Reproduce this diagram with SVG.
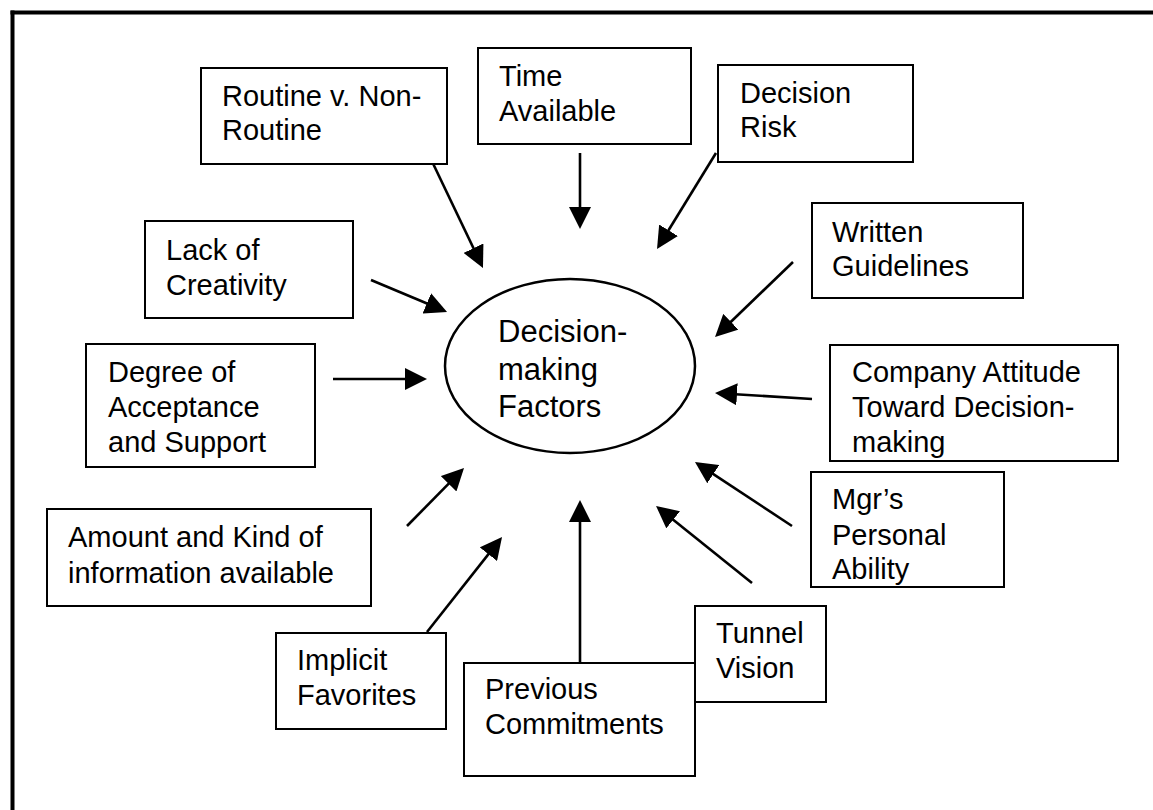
<svg xmlns="http://www.w3.org/2000/svg" width="1153" height="810" viewBox="0 0 1153 810">
<defs>
<style>
.box{fill:#fff;stroke:#000;stroke-width:2}
.t{font-family:"Liberation Sans",Arial,sans-serif;font-size:29px;fill:#000}
.c{font-family:"Liberation Sans",Arial,sans-serif;font-size:31px;fill:#000}
.arr{stroke:#000;stroke-width:2.6;fill:none;marker-end:url(#ah)}
</style>
<marker id="ah" markerUnits="userSpaceOnUse" markerWidth="22" markerHeight="22" refX="10" refY="11" orient="auto" viewBox="0 0 22 22">
<path d="M0,0 L22,11 L0,22 z" fill="#000"/>
</marker>
</defs>
<rect width="1153" height="810" fill="#fff"/>
<g id="border" stroke="#000" stroke-width="4" fill="none">
<line x1="12.5" y1="10.5" x2="12.5" y2="810"/>
<line x1="10.5" y1="12.5" x2="1153" y2="12.5"/>
</g>
<g id="connectors">
<line class="arr" x1="428" y1="153" x2="477.8" y2="257.2"/>
<line class="arr" x1="580" y1="153" x2="580" y2="217"/>
<line class="arr" x1="716" y1="153" x2="663.3" y2="238.8"/>
<line class="arr" x1="793" y1="262" x2="723.7" y2="328.7"/>
<line class="arr" x1="812" y1="399" x2="727" y2="393.7"/>
<line class="arr" x1="792" y1="526" x2="705" y2="468.6"/>
<line class="arr" x1="752" y1="583" x2="665.4" y2="513.5"/>
<line class="arr" x1="580" y1="663" x2="580" y2="512"/>
<line class="arr" x1="427" y1="632" x2="494.6" y2="546.4"/>
<line class="arr" x1="407" y1="526" x2="455.6" y2="476.6"/>
<line class="arr" x1="333" y1="379" x2="415" y2="379"/>
<line class="arr" x1="371" y1="280" x2="436" y2="307.3"/>
</g>
<g id="center">
<ellipse cx="570" cy="366" rx="125" ry="87" fill="#fff" stroke="#000" stroke-width="2.5"/>
<text class="c" x="498" y="342">Decision-</text>
<text class="c" x="498" y="380">making</text>
<text class="c" x="498" y="417">Factors</text>
</g>
<g id="routine">
<rect class="box" x="201" y="68" width="246" height="96"/>
<text class="t" x="222" y="106">Routine v. Non-</text>
<text class="t" x="222" y="140">Routine</text>
</g>
<g id="time">
<rect class="box" x="478" y="48" width="213" height="96"/>
<text class="t" x="499" y="86">Time</text>
<text class="t" x="499" y="121">Available</text>
</g>
<g id="risk">
<rect class="box" x="718" y="65" width="195" height="97"/>
<text class="t" x="740" y="103">Decision</text>
<text class="t" x="740" y="137">Risk</text>
</g>
<g id="written">
<rect class="box" x="812" y="203" width="211" height="95"/>
<text class="t" x="832" y="242">Written</text>
<text class="t" x="832" y="276">Guidelines</text>
</g>
<g id="lack">
<rect class="box" x="145" y="221" width="208" height="97"/>
<text class="t" x="166" y="260">Lack of</text>
<text class="t" x="166" y="295">Creativity</text>
</g>
<g id="degree">
<rect class="box" x="86" y="344" width="229" height="123"/>
<text class="t" x="108" y="382">Degree of</text>
<text class="t" x="108" y="417">Acceptance</text>
<text class="t" x="108" y="452">and Support</text>
</g>
<g id="company">
<rect class="box" x="830" y="345" width="288" height="116"/>
<text class="t" x="852" y="382">Company Attitude</text>
<text class="t" x="852" y="417">Toward Decision-</text>
<text class="t" x="852" y="452">making</text>
</g>
<g id="mgr">
<rect class="box" x="811" y="472" width="193" height="115"/>
<text class="t" x="832" y="509">Mgr’s</text>
<text class="t" x="832" y="545">Personal</text>
<text class="t" x="832" y="579">Ability</text>
</g>
<g id="amount">
<rect class="box" x="47" y="509" width="324" height="97"/>
<text class="t" x="68" y="547">Amount and Kind of</text>
<text class="t" x="68" y="583">information available</text>
</g>
<g id="implicit">
<rect class="box" x="276" y="633" width="170" height="96"/>
<text class="t" x="297" y="670">Implicit</text>
<text class="t" x="297" y="705">Favorites</text>
</g>
<g id="tunnel">
<rect class="box" x="695" y="606" width="131" height="96"/>
<text class="t" x="716" y="643">Tunnel</text>
<text class="t" x="716" y="678">Vision</text>
</g>
<g id="previous">
<rect class="box" x="464" y="663" width="231" height="113"/>
<text class="t" x="485" y="699">Previous</text>
<text class="t" x="485" y="734">Commitments</text>
</g>
</svg>
